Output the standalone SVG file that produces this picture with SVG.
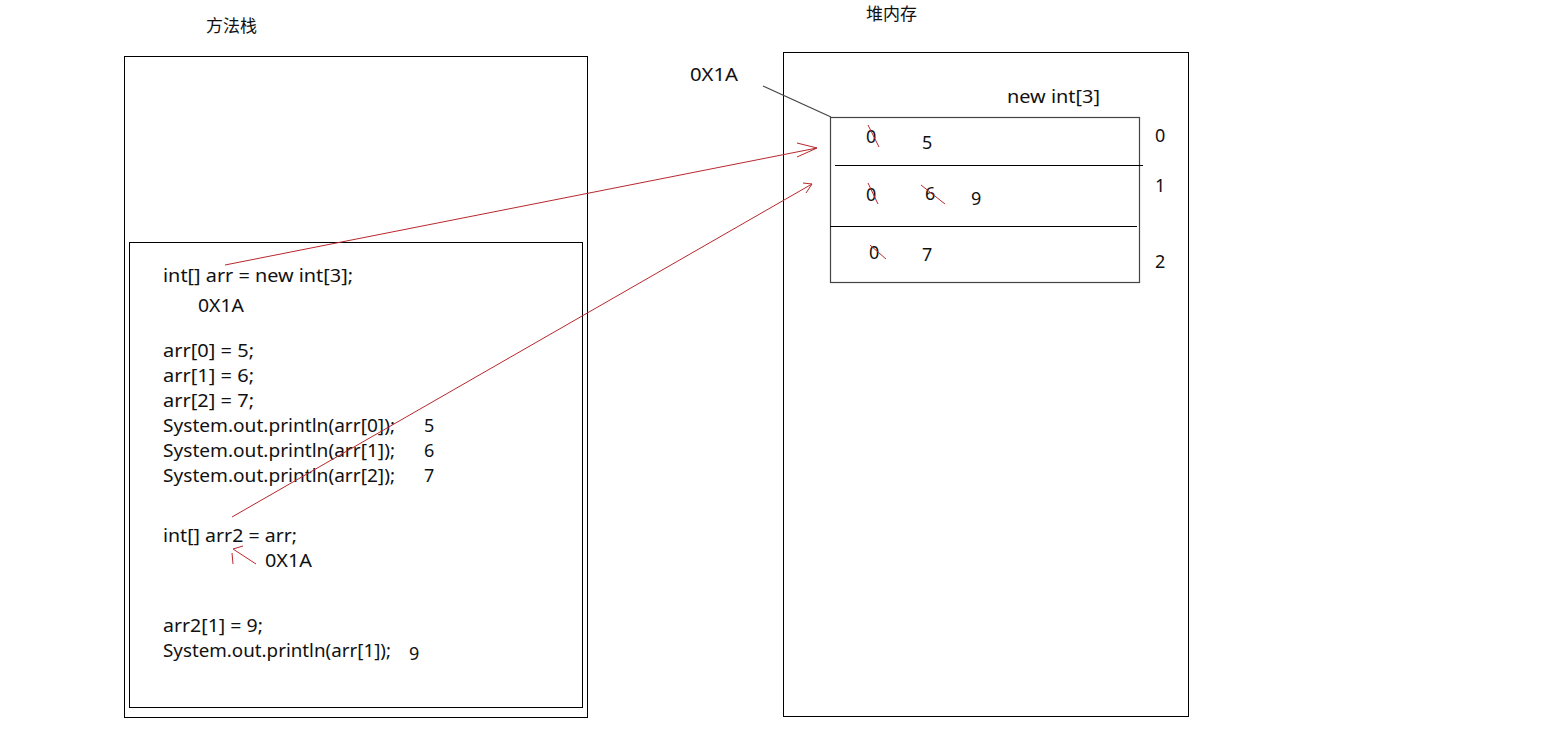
<svg xmlns="http://www.w3.org/2000/svg" width="1566" height="743" viewBox="0 0 1566 743">
<style>
text{font-family:"Noto Sans","Liberation Sans","Noto Sans CJK SC",sans-serif;font-size:18px;fill:#111}
.cjk{font-family:"Noto Sans CJK SC",sans-serif;font-size:17px}
.box{fill:none;stroke:#000;stroke-width:1}
.red{fill:none;stroke:#b8282d;stroke-width:1}
.gray{fill:none;stroke:#444;stroke-width:1.2}
</style>
<rect width="1566" height="743" fill="#fff"/>
<g id="method-stack">
<text class="cjk" x="206" y="32">方法栈</text>
<rect class="box" x="124.5" y="56.5" width="463" height="661"/>
<rect class="box" x="129.5" y="242.5" width="453" height="465"/>
<text x="163" y="282" textLength="190" lengthAdjust="spacingAndGlyphs">int[] arr = new int[3];</text>
<text x="198" y="312" textLength="46" lengthAdjust="spacingAndGlyphs">0X1A</text>
<text x="163" y="357" textLength="91" lengthAdjust="spacingAndGlyphs">arr[0] = 5;</text>
<text x="163" y="382" textLength="91" lengthAdjust="spacingAndGlyphs">arr[1] = 6;</text>
<text x="163" y="407" textLength="91" lengthAdjust="spacingAndGlyphs">arr[2] = 7;</text>
<text x="163" y="432" textLength="232" lengthAdjust="spacingAndGlyphs">System.out.println(arr[0]);</text>
<text x="424" y="432">5</text>
<text x="163" y="457" textLength="232" lengthAdjust="spacingAndGlyphs">System.out.println(arr[1]);</text>
<text x="424" y="457">6</text>
<text x="163" y="482" textLength="232" lengthAdjust="spacingAndGlyphs">System.out.println(arr[2]);</text>
<text x="424" y="482">7</text>
<text x="163" y="542" textLength="134" lengthAdjust="spacingAndGlyphs">int[] arr2 = arr;</text>
<text x="265" y="567" textLength="47" lengthAdjust="spacingAndGlyphs">0X1A</text>
<text x="163" y="632" textLength="100" lengthAdjust="spacingAndGlyphs">arr2[1] = 9;</text>
<text x="163" y="657" textLength="228" lengthAdjust="spacingAndGlyphs">System.out.println(arr[1]);</text>
<text x="409" y="660">9</text>
</g>
<g id="heap">
<text class="cjk" x="866" y="20">堆内存</text>
<rect class="box" x="783.5" y="52.5" width="405" height="664"/>
<text x="690" y="81" textLength="48" lengthAdjust="spacingAndGlyphs">0X1A</text>
<text x="1007" y="103" textLength="93" lengthAdjust="spacingAndGlyphs">new int[3]</text>
</g>
<g id="array">
<rect class="gray" x="830.5" y="117.5" width="309" height="165"/>
<line class="box" x1="835" y1="165.5" x2="1143" y2="165.5"/>
<line class="box" x1="830" y1="226.5" x2="1137" y2="226.5"/>
<text x="1155" y="142">0</text>
<text x="1155" y="192">1</text>
<text x="1155" y="268">2</text>
<text x="866" y="143">0</text>
<text x="922" y="149">5</text>
<text x="866" y="201">0</text>
<text x="925" y="200">6</text>
<text x="971" y="205">9</text>
<text x="869" y="259">0</text>
<text x="922" y="261">7</text>
<line class="red" x1="868" y1="125" x2="879" y2="147"/>
<line class="red" x1="868" y1="183" x2="878" y2="204"/>
<line class="red" x1="870" y1="245" x2="886" y2="259"/>
<line class="red" x1="921" y1="185" x2="945" y2="204"/>
</g>
<g id="connectors">
<line class="gray" x1="763" y1="86" x2="831" y2="117"/>
<polyline class="red" points="225,265 817,148"/>
<polyline class="red" points="797,143 817,148 797,157"/>
<polyline class="red" points="232,517 812,184"/>
<polyline class="red" points="803,183 812,184 806,193"/>
<polyline class="red" points="256,564 233,549"/>
<polyline class="red" points="243,546 233,549"/>
<polyline class="red" points="232,553 233,564"/>
</g>
</svg>
